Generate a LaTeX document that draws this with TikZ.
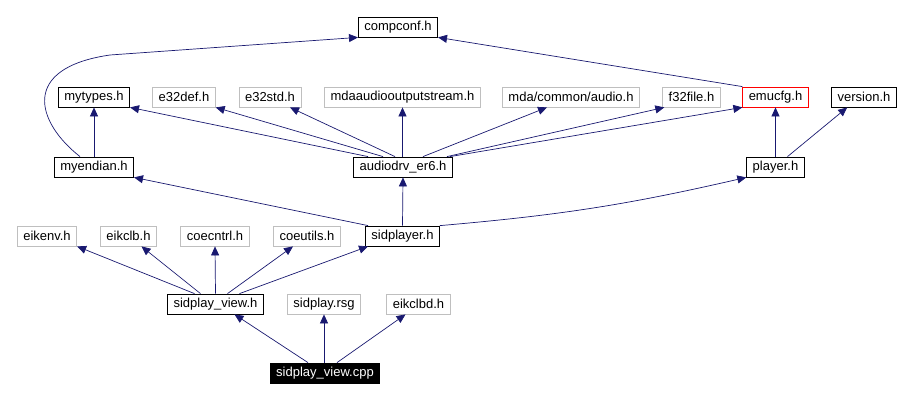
\documentclass[tikz,border=0pt]{standalone}
\usepackage{fontspec}
\setmainfont{Liberation Sans}
\usetikzlibrary{arrows.meta}
\definecolor{edgeblue}{HTML}{191970}
\definecolor{extgray}{HTML}{BFBFBF}
\begin{document}
\begin{tikzpicture}
  [
    x = 1pt, y = -1pt,
    file/.style = {draw, line width = 0.8pt, inner xsep = 6pt, inner ysep = 0pt,
        minimum height = 20pt, font = \fontsize{13}{15}\selectfont},
    ext/.style = {file, draw = extgray},
    cfg/.style = {file, draw = red},
    main/.style = {file, fill = black, text = white},
    inc/.style = {draw = edgeblue, line width = 0.7pt,
        -{Triangle[length = 9pt, width = 8pt]}},
  ]

  \useasboundingbox (0,0) rectangle (900,401);

  % row 0
  \node [file] (compconf) at (398,27) {compconf.h};

  % row 1
  \node [file] (mytypes) at (94,97) {mytypes.h};
  \node [ext] (e32def) at (184,97) {e32def.h};
  \node [ext] (e32std) at (270,97) {e32std.h};
  \node [ext] (mdaaudio) at (402.5,97) {mdaaudiooutputstream.h};
  \node [ext] (mdacommon) at (571,97) {mda/common/audio.h};
  \node [ext] (f32file) at (691.5,97) {f32file.h};
  \node [cfg] (emucfg) at (775.5,97) {emucfg.h};
  \node [file] (version) at (864,97) {version.h};

  % row 2
  \node [file] (myendian) at (94,167) {myendian.h};
  \node [file] (audiodrv) at (403,167) {audiodrv\_er6.h};
  \node [file] (player) at (775.5,167) {player.h};

  % row 3
  \node [ext] (eikenv) at (47,236) {eikenv.h};
  \node [ext] (eikclb) at (128.5,236) {eikclb.h};
  \node [ext] (coecntrl) at (215,236) {coecntrl.h};
  \node [ext] (coeutils) at (307,236) {coeutils.h};
  \node [file] (sidplayer) at (402.5,236) {sidplayer.h};

  % row 4
  \node [file] (view) at (215.5,304) {sidplay\_view.h};
  \node [ext] (rsg) at (324,304) {sidplay.rsg};
  \node [ext] (eikclbd) at (418.5,304) {eikclbd.h};

  % row 5
  \node [main] (viewcpp) at (325,373) {sidplay\_view.cpp};

  % includes of compconf.h
  \draw [inc] ([xshift=-14pt]myendian.north)
    .. controls (36,122) and (20,68) .. (110,55) -- (compconf.south west);
  \draw [inc] (emucfg.north west) -- (compconf.south east);

  % includes of audiodrv_er6.h
  \draw [inc] ([xshift=-35pt]audiodrv.north) -- (mytypes.south east);
  \draw [inc] ([xshift=-20pt]audiodrv.north) -- (e32def.south east);
  \draw [inc] ([xshift=-8pt]audiodrv.north) -- ([xshift=20pt]e32std.south);
  \draw [inc] (audiodrv.north -| mdaaudio.south) -- (mdaaudio.south);
  \draw [inc] ([xshift=20pt]audiodrv.north) -- ([xshift=-24pt]mdacommon.south);
  \draw [inc] ([xshift=44pt]audiodrv.north) -- ([xshift=2pt]f32file.south west);
  \draw [inc] ([xshift=47pt]audiodrv.north) -- (emucfg.south west);

  % other row 2 includes
  \draw [inc] (myendian.north -| mytypes.south) -- (mytypes.south);
  \draw [inc] (player.north) -- (emucfg.south);
  \draw [inc] ([xshift=12pt]player.north) -- ([xshift=16pt]version.south west);

  % includes of sidplayer.h
  \draw [inc] ([xshift=3pt]sidplayer.north west) -- (myendian.south east);
  \draw [inc] (sidplayer.north) -- (audiodrv.south);
  \draw [inc] (sidplayer.north east) to [bend right=4] (player.south west);

  % includes of sidplay_view.h
  \foreach \from/\to/\toshift in {-21/eikenv.south east/0, -15/eikclb.south/13,
      0/coecntrl.south/0, 12/coeutils.south/-14, 24/sidplayer.south west/3}{
      \draw [inc] ([xshift=\from pt]view.north) -- ([xshift=\toshift pt]\to);
    }

  % includes of sidplay_view.cpp
  \draw [inc] ([xshift=-17pt]viewcpp.north) -- ([xshift=19pt]view.south);
  \draw [inc] (viewcpp.north -| rsg.south) -- (rsg.south);
  \draw [inc] ([xshift=12pt]viewcpp.north) -- ([xshift=-13pt]eikclbd.south);

\end{tikzpicture}
\end{document}
